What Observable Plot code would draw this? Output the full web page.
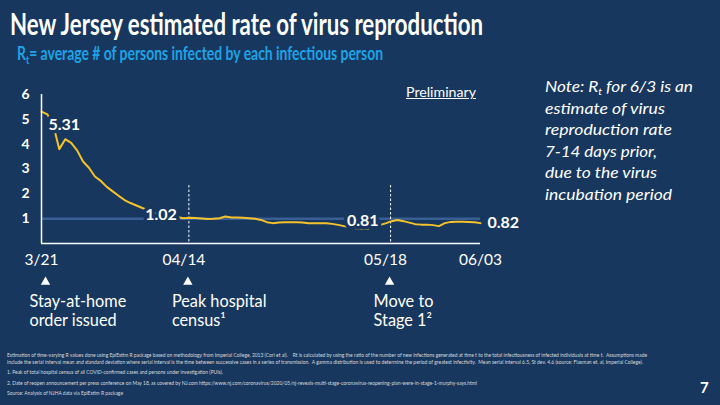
<!DOCTYPE html>
<html><head><meta charset="utf-8">
<script src="https://cdn.jsdelivr.net/npm/d3@7"></script>
<script src="https://cdn.jsdelivr.net/npm/@observablehq/plot@0.6"></script>
<style>
html,body{margin:0;padding:0;}
body{width:720px;height:405px;background:#17375E;overflow:hidden;position:relative;font-family:Lato,"Open Sans",sans-serif;color:#fff;}
.abs{position:absolute;white-space:nowrap;}
#title{left:10px;top:5px;font-size:30px;font-weight:700;line-height:36px;}
#sub{left:17px;top:41px;font-size:19px;font-weight:700;line-height:23px;color:#1ea3e6;}
.note{left:545px;font-size:15.5px;font-style:italic;line-height:21.6px;}
#prelim{left:406px;top:84px;font-size:13px;line-height:16px;text-decoration:underline;}
.foot{left:7px;font-size:5px;line-height:6px;color:#d9d9d9;}
#page{left:700px;top:378px;font-size:15px;font-weight:700;line-height:18px;}
#chart{position:absolute;left:0;top:80px;}
.sb{font-size:0.62em;vertical-align:-0.3em;line-height:0;}
</style></head>
<body>
<div id="title" class="abs fit" data-w="473">New Jersey estimated rate of virus reproduction</div>
<div id="sub" class="abs fit" data-w="366">R<span class="sb">t</span>= average # of persons infected by each infectious person</div>
<div id="prelim" class="abs fit" data-w="70">Preliminary</div>
<div class="abs note fit" data-w="148" style="top:76px">Note: R<span class="sb">t</span> for 6/3 is an</div>
<div class="abs note fit" data-w="120" style="top:97.6px">estimate of virus</div>
<div class="abs note fit" data-w="127" style="top:119.2px">reproduction rate</div>
<div class="abs note fit" data-w="112" style="top:140.8px">7-14 days prior,</div>
<div class="abs note fit" data-w="112" style="top:162.4px">due to the virus</div>
<div class="abs note fit" data-w="127" style="top:184px">incubation period</div>
<div id="chart"></div>
<div class="abs foot fit" data-w="640" style="top:352px">Estimation of time-varying R values done using EpiEstim R package based on methodology from Imperial College, 2013 (Cori et al).&nbsp;&nbsp;&nbsp; Rt is calculated by using the ratio of the number of new infections generated at time t to the total infectiousness of infected individuals at time t.&nbsp; Assumptions made</div>
<div class="abs foot fit" data-w="636" style="top:358.7px">include the serial interval mean and standard deviation where serial interval is the time between successive cases in a series of transmission.&nbsp; A gamma distribution is used to determine the period of greatest infectivity.&nbsp; Mean serial interval 6.5, St dev. 4.6 (source: Flaxman et. al, Imperial College).</div>
<div class="abs foot fit" data-w="216" style="top:369px">1. Peak of total hospital census of all COVID-confirmed cases and persons under investigation (PUIs).</div>
<div class="abs foot fit" data-w="470" style="top:379.7px">2. Date of reopen announcement per press conference on May 18, as covered by NJ.com https://www.nj.com/coronavirus/2020/05/nj-reveals-multi-stage-coronavirus-reopening-plan-were-in-stage-1-murphy-says.html</div>
<div class="abs foot fit" data-w="116" style="top:390px">Source: Analysis of NJHA data via EpiEstim R package</div>
<div id="page" class="abs">7</div>
<script>
// ---- data ----
const startDate = "2020-03-21";
const rtValues = [
  5.31, 5.20, 4.75, 3.80, 4.20, 4.05, 3.75, 3.30, 3.05, 2.70,
  2.52, 2.28, 2.10, 1.92, 1.75, 1.63, 1.53, 1.43, 1.33, 1.24,
  1.17, 1.12, 1.08, 1.06, 1.02, 1.04, 1.03, 1.01, 0.99, 1.00,
  1.02, 1.09, 1.05, 1.05, 1.04, 1.02, 1.00, 0.95, 0.86, 0.82,
  0.85, 0.86, 0.86, 0.86, 0.85, 0.82, 0.82, 0.82, 0.82, 0.79,
  0.75, 0.70, 0.65, 0.61, 0.60, 0.60, 0.66, 0.74, 0.81, 0.90,
  0.95, 0.90, 0.84, 0.78, 0.76, 0.76, 0.74, 0.70, 0.82, 0.87,
  0.88, 0.88, 0.87, 0.86, 0.82
];
const tickDates = ["2020-03-21", "2020-04-14", "2020-05-18", "2020-06-03"];
const tickLabels = ["3/21", "04/14", "05/18", "06/03"];
const yTicks = [1, 2, 3, 4, 5, 6];
const threshold = [1];
const eventDates = ["2020-03-21", "2020-04-14", "2020-05-18"];
const eventLabels = ["Stay-at-home\norder issued", "Peak hospital\ncensus\u00b9", "Move to\nStage 1\u00b2"];
const calloutDates = ["2020-03-21", "2020-04-14", "2020-05-18", "2020-06-03"];
const calloutValues = [5.31, 1.02, 0.81, 0.82];

// ---- derived tables ----
const parse = s => new Date(s + "T00:00:00Z");
const series = rtValues.map((v, i) => ({date: d3.utcDay.offset(parse(startDate), i), rt: v}));
const events = eventDates.map((d, i) => ({date: parse(d), label: eventLabels[i]}));
const callouts = calloutDates.map((d, i) => ({date: parse(d), rt: calloutValues[i], text: calloutValues[i].toFixed(2)}));

const BG = "#17375E", GOLD = "#F5C22A", BLUE = "#3A5F95";

const labelStyle = {x: "date", y: "rt", text: "text", fill: "white", fontWeight: "bold", fontSize: 16,
  stroke: BG, strokeWidth: 7, paintOrder: "stroke", strokeLinejoin: "round"};

const chart = Plot.plot({
  width: 720, height: 260,
  marginLeft: 41, marginRight: 240, marginTop: 14, marginBottom: 97,
  style: {background: "transparent", color: "white", fontFamily: "Lato, 'Open Sans', sans-serif", overflow: "visible"},
  x: {type: "utc", domain: [parse(tickDates[0]), parse(tickDates[3])]},
  y: {domain: [0, 6]},
  marks: [
    Plot.ruleY(threshold, {stroke: BLUE, strokeWidth: 2.5}),
    Plot.ruleX(events.slice(1), {x: "date", insetTop: 91, stroke: "white", strokeWidth: 1, strokeDasharray: "2.5,2", dx: 5}),
    Plot.line(series, {x: "date", y: "rt", stroke: GOLD, strokeWidth: 2}),
    Plot.ruleX([parse(tickDates[0])], {stroke: "white", strokeWidth: 1.5}),
    Plot.ruleY([0], {stroke: "white", strokeWidth: 1.5}),
    Plot.axisY({ticks: yTicks, tickFormat: d => String(d), tickSize: 0, tickPadding: 12, fontSize: 14, fontWeight: "bold", label: null}),
    Plot.axisX({ticks: tickDates.map(parse), tickFormat: (d, i) => tickLabels[i], tickSize: 0, tickPadding: 10, fontSize: 15.5, label: null}),
    Plot.text(callouts.slice(0, 1), {...labelStyle, textAnchor: "start", dx: 7, dy: 13}),
    Plot.text(callouts.slice(1, 3), {...labelStyle, textAnchor: "end", dx: -7, dy: -3}),
    Plot.text(callouts.slice(3), {...labelStyle, textAnchor: "start", dx: 7}),
    Plot.dot(events, {x: "date", frameAnchor: "bottom", dy: 38.5, dx: 4, symbol: "triangle", r: 3.5, fill: "white", stroke: null}),
    Plot.text(events, {x: "date", text: "label", frameAnchor: "bottom", lineAnchor: "top", textAnchor: "start",
      dx: -12, dy: 51, fontSize: 16.3, lineHeight: 1.12, fill: "white"})
  ]
});
document.getElementById("chart").appendChild(chart);

// fit HTML text widths to the reference
document.querySelectorAll(".fit").forEach(el => {
  const w = el.getBoundingClientRect().width;
  const target = +el.dataset.w;
  if (w > 0) { el.style.transformOrigin = "0 0"; el.style.transform = `scaleX(${target / w})`; }
});
</script>
</body></html>
